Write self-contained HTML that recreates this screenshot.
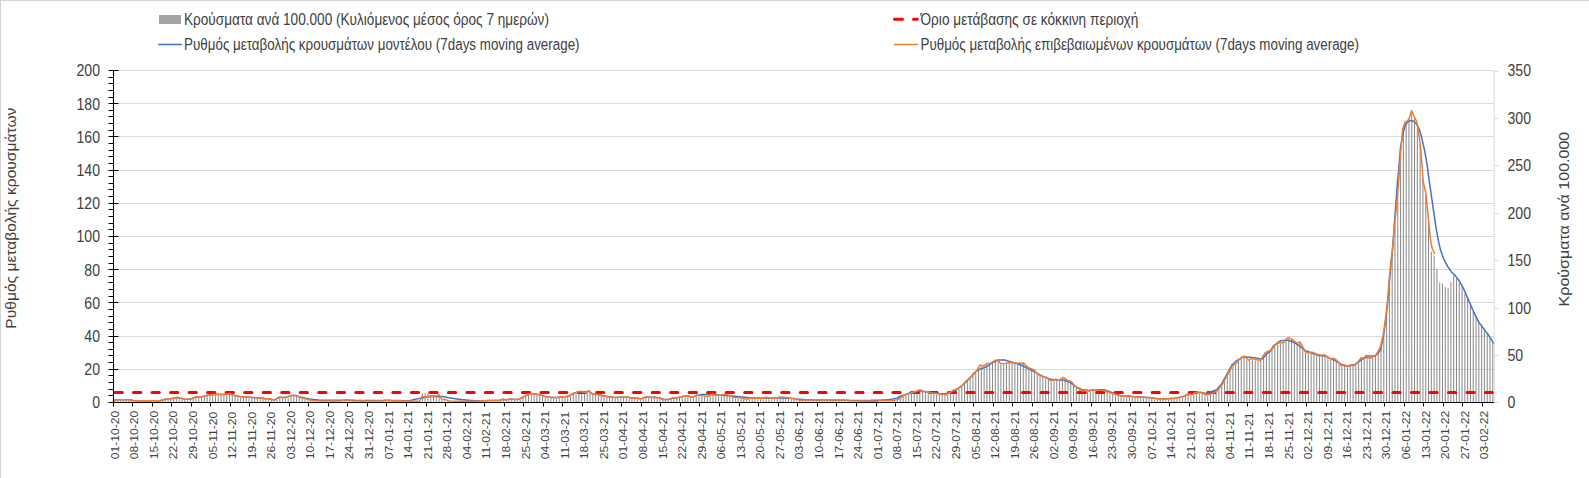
<!DOCTYPE html><html><head><meta charset="utf-8"><style>html,body{margin:0;padding:0;background:#fff;}svg{display:block}text{font-family:"Liberation Sans", sans-serif;}</style></head><body>
<svg width="1589" height="478" viewBox="0 0 1589 478">
<rect x="0.5" y="0.5" width="1600" height="600" fill="#fff" stroke="#d4d4d4" stroke-width="1"/>
<path d="M118,369.5H1494.2 M118,336.5H1494.2 M118,302.5H1494.2 M118,269.5H1494.2 M118,236.5H1494.2 M118,203.5H1494.2 M118,170.5H1494.2 M118,136.5H1494.2 M118,103.5H1494.2 M118,70.5H1494.2" stroke="#d9d9d9" stroke-width="1" fill="none"/>
<path d="M114.37,402.4V400.79h1.05V402.4zM117.17,402.4V400.70h1.05V402.4zM119.96,402.4V400.70h1.05V402.4zM122.76,402.4V400.70h1.05V402.4zM125.55,402.4V400.70h1.05V402.4zM128.35,402.4V400.70h1.05V402.4zM131.14,402.4V400.87h1.05V402.4zM133.94,402.4V401.70h1.05V402.4zM136.73,402.4V401.70h1.05V402.4zM139.53,402.4V401.70h1.05V402.4zM142.32,402.4V401.70h1.05V402.4zM145.12,402.4V401.70h1.05V402.4zM147.91,402.4V401.70h1.05V402.4zM150.71,402.4V401.70h1.05V402.4zM153.50,402.4V401.70h1.05V402.4zM156.30,402.4V401.70h1.05V402.4zM159.09,402.4V401.70h1.05V402.4zM161.89,402.4V400.98h1.05V402.4zM164.68,402.4V400.08h1.05V402.4zM167.48,402.4V399.80h1.05V402.4zM170.27,402.4V399.52h1.05V402.4zM173.07,402.4V399.08h1.05V402.4zM175.86,402.4V398.52h1.05V402.4zM178.66,402.4V398.57h1.05V402.4zM181.45,402.4V399.46h1.05V402.4zM184.25,402.4V400.11h1.05V402.4zM187.04,402.4V400.16h1.05V402.4zM189.84,402.4V400.06h1.05V402.4zM192.63,402.4V398.94h1.05V402.4zM195.43,402.4V397.82h1.05V402.4zM198.22,402.4V398.07h1.05V402.4zM201.02,402.4V397.79h1.05V402.4zM203.81,402.4V397.04h1.05V402.4zM206.61,402.4V396.29h1.05V402.4zM209.40,402.4V395.80h1.05V402.4zM212.20,402.4V395.49h1.05V402.4zM214.99,402.4V395.36h1.05V402.4zM217.79,402.4V395.23h1.05V402.4zM220.58,402.4V395.33h1.05V402.4zM223.38,402.4V395.50h1.05V402.4zM226.17,402.4V395.15h1.05V402.4zM228.96,402.4V394.43h1.05V402.4zM231.76,402.4V395.79h1.05V402.4zM234.55,402.4V396.53h1.05V402.4zM237.35,402.4V397.15h1.05V402.4zM240.14,402.4V397.53h1.05V402.4zM242.94,402.4V397.75h1.05V402.4zM245.73,402.4V397.97h1.05V402.4zM248.53,402.4V398.14h1.05V402.4zM251.32,402.4V398.30h1.05V402.4zM254.12,402.4V398.55h1.05V402.4zM256.91,402.4V398.90h1.05V402.4zM259.71,402.4V399.08h1.05V402.4zM262.50,402.4V398.88h1.05V402.4zM265.30,402.4V399.70h1.05V402.4zM268.09,402.4V399.65h1.05V402.4zM270.89,402.4V400.31h1.05V402.4zM273.68,402.4V400.98h1.05V402.4zM276.48,402.4V399.64h1.05V402.4zM279.27,402.4V397.89h1.05V402.4zM282.07,402.4V398.40h1.05V402.4zM284.86,402.4V398.27h1.05V402.4zM287.66,402.4V397.38h1.05V402.4zM290.45,402.4V396.30h1.05V402.4zM293.25,402.4V396.30h1.05V402.4zM296.04,402.4V396.45h1.05V402.4zM298.84,402.4V398.04h1.05V402.4zM301.63,402.4V398.96h1.05V402.4zM304.43,402.4V399.69h1.05V402.4zM307.22,402.4V400.37h1.05V402.4zM310.02,402.4V401.05h1.05V402.4zM312.81,402.4V401.48h1.05V402.4zM315.61,402.4V401.66h1.05V402.4zM318.40,402.4V401.83h1.05V402.4zM321.20,402.4V401.90h1.05V402.4zM323.99,402.4V401.90h1.05V402.4zM326.79,402.4V401.90h1.05V402.4zM329.58,402.4V401.90h1.05V402.4zM332.38,402.4V401.90h1.05V402.4zM335.17,402.4V401.90h1.05V402.4zM337.97,402.4V401.90h1.05V402.4zM340.76,402.4V401.56h1.05V402.4zM343.56,402.4V400.96h1.05V402.4zM346.35,402.4V400.79h1.05V402.4zM349.15,402.4V401.07h1.05V402.4zM351.94,402.4V401.76h1.05V402.4zM354.74,402.4V401.90h1.05V402.4zM357.53,402.4V401.90h1.05V402.4zM360.33,402.4V401.90h1.05V402.4zM363.12,402.4V401.90h1.05V402.4zM365.92,402.4V401.90h1.05V402.4zM368.71,402.4V401.90h1.05V402.4zM371.51,402.4V401.90h1.05V402.4zM374.30,402.4V401.90h1.05V402.4zM377.10,402.4V401.90h1.05V402.4zM379.89,402.4V401.90h1.05V402.4zM382.69,402.4V401.82h1.05V402.4zM385.48,402.4V400.95h1.05V402.4zM388.28,402.4V401.04h1.05V402.4zM391.07,402.4V401.76h1.05V402.4zM393.87,402.4V401.84h1.05V402.4zM396.66,402.4V401.77h1.05V402.4zM399.46,402.4V401.70h1.05V402.4zM402.25,402.4V401.79h1.05V402.4zM405.05,402.4V401.86h1.05V402.4zM407.84,402.4V401.93h1.05V402.4zM410.64,402.4V402.00h1.05V402.4zM413.43,402.4V402.07h1.05V402.4zM416.23,402.4V402.13h1.05V402.4zM419.02,402.4V402.11h1.05V402.4zM421.82,402.4V393.20h1.05V402.4zM424.61,402.4V393.20h1.05V402.4zM427.41,402.4V393.20h1.05V402.4zM430.20,402.4V396.81h1.05V402.4zM433.00,402.4V396.85h1.05V402.4zM435.79,402.4V396.89h1.05V402.4zM438.59,402.4V395.79h1.05V402.4zM441.38,402.4V400.03h1.05V402.4zM444.18,402.4V400.27h1.05V402.4zM446.97,402.4V401.30h1.05V402.4zM449.77,402.4V401.92h1.05V402.4zM452.56,402.4V401.97h1.05V402.4zM455.36,402.4V402.03h1.05V402.4zM458.15,402.4V402.08h1.05V402.4zM460.94,402.4V402.10h1.05V402.4zM463.74,402.4V402.10h1.05V402.4zM466.53,402.4V402.10h1.05V402.4zM469.33,402.4V402.10h1.05V402.4zM472.12,402.4V402.10h1.05V402.4zM474.92,402.4V402.10h1.05V402.4zM477.71,402.4V401.79h1.05V402.4zM480.51,402.4V401.72h1.05V402.4zM483.30,402.4V401.65h1.05V402.4zM486.10,402.4V401.58h1.05V402.4zM488.89,402.4V401.51h1.05V402.4zM491.69,402.4V401.41h1.05V402.4zM494.48,402.4V401.30h1.05V402.4zM497.28,402.4V401.19h1.05V402.4zM500.07,402.4V400.90h1.05V402.4zM502.87,402.4V400.21h1.05V402.4zM505.66,402.4V400.85h1.05V402.4zM508.46,402.4V400.15h1.05V402.4zM511.25,402.4V400.08h1.05V402.4zM514.05,402.4V400.36h1.05V402.4zM516.84,402.4V400.40h1.05V402.4zM519.64,402.4V399.43h1.05V402.4zM522.43,402.4V398.12h1.05V402.4zM525.23,402.4V396.60h1.05V402.4zM528.02,402.4V395.02h1.05V402.4zM530.82,402.4V394.63h1.05V402.4zM533.61,402.4V394.60h1.05V402.4zM536.41,402.4V395.09h1.05V402.4zM539.20,402.4V395.81h1.05V402.4zM542.00,402.4V396.55h1.05V402.4zM544.79,402.4V397.33h1.05V402.4zM547.59,402.4V397.93h1.05V402.4zM550.38,402.4V398.26h1.05V402.4zM553.18,402.4V398.50h1.05V402.4zM555.97,402.4V398.50h1.05V402.4zM558.77,402.4V398.05h1.05V402.4zM561.56,402.4V397.70h1.05V402.4zM564.36,402.4V397.56h1.05V402.4zM567.15,402.4V397.12h1.05V402.4zM569.95,402.4V396.25h1.05V402.4zM572.74,402.4V394.31h1.05V402.4zM575.54,402.4V393.38h1.05V402.4zM578.33,402.4V392.54h1.05V402.4zM581.13,402.4V392.60h1.05V402.4zM583.92,402.4V393.27h1.05V402.4zM586.72,402.4V392.33h1.05V402.4zM589.51,402.4V392.64h1.05V402.4zM592.31,402.4V394.86h1.05V402.4zM595.10,402.4V395.07h1.05V402.4zM597.90,402.4V395.64h1.05V402.4zM600.69,402.4V396.27h1.05V402.4zM603.49,402.4V396.90h1.05V402.4zM606.28,402.4V397.32h1.05V402.4zM609.08,402.4V397.74h1.05V402.4zM611.87,402.4V398.09h1.05V402.4zM614.67,402.4V398.39h1.05V402.4zM617.46,402.4V398.28h1.05V402.4zM620.26,402.4V398.18h1.05V402.4zM623.05,402.4V398.11h1.05V402.4zM625.85,402.4V398.04h1.05V402.4zM628.64,402.4V398.35h1.05V402.4zM631.44,402.4V398.94h1.05V402.4zM634.23,402.4V399.06h1.05V402.4zM637.03,402.4V399.18h1.05V402.4zM639.82,402.4V399.75h1.05V402.4zM642.62,402.4V398.97h1.05V402.4zM645.41,402.4V397.63h1.05V402.4zM648.21,402.4V398.08h1.05V402.4zM651.00,402.4V398.27h1.05V402.4zM653.80,402.4V398.21h1.05V402.4zM656.59,402.4V398.50h1.05V402.4zM659.39,402.4V398.89h1.05V402.4zM662.18,402.4V400.12h1.05V402.4zM664.98,402.4V400.55h1.05V402.4zM667.77,402.4V400.27h1.05V402.4zM670.57,402.4V399.50h1.05V402.4zM673.36,402.4V398.92h1.05V402.4zM676.16,402.4V398.81h1.05V402.4zM678.95,402.4V397.97h1.05V402.4zM681.75,402.4V397.44h1.05V402.4zM684.54,402.4V397.00h1.05V402.4zM687.34,402.4V396.96h1.05V402.4zM690.13,402.4V397.80h1.05V402.4zM692.92,402.4V397.67h1.05V402.4zM695.72,402.4V396.35h1.05V402.4zM698.51,402.4V396.17h1.05V402.4zM701.31,402.4V396.48h1.05V402.4zM704.10,402.4V396.83h1.05V402.4zM706.90,402.4V397.22h1.05V402.4zM709.69,402.4V396.08h1.05V402.4zM712.49,402.4V395.37h1.05V402.4zM715.28,402.4V395.96h1.05V402.4zM718.08,402.4V396.19h1.05V402.4zM720.87,402.4V395.88h1.05V402.4zM723.67,402.4V395.14h1.05V402.4zM726.46,402.4V395.70h1.05V402.4zM729.26,402.4V396.81h1.05V402.4zM732.05,402.4V397.87h1.05V402.4zM734.85,402.4V398.45h1.05V402.4zM737.64,402.4V398.54h1.05V402.4zM740.44,402.4V398.85h1.05V402.4zM743.23,402.4V399.58h1.05V402.4zM746.03,402.4V399.95h1.05V402.4zM748.82,402.4V399.33h1.05V402.4zM751.62,402.4V398.73h1.05V402.4zM754.41,402.4V399.12h1.05V402.4zM757.21,402.4V399.16h1.05V402.4zM760.00,402.4V399.19h1.05V402.4zM762.80,402.4V399.13h1.05V402.4zM765.59,402.4V397.94h1.05V402.4zM768.39,402.4V398.97h1.05V402.4zM771.18,402.4V399.14h1.05V402.4zM773.98,402.4V399.28h1.05V402.4zM776.77,402.4V398.66h1.05V402.4zM779.57,402.4V397.90h1.05V402.4zM782.36,402.4V398.02h1.05V402.4zM785.16,402.4V398.24h1.05V402.4zM787.95,402.4V398.80h1.05V402.4zM790.75,402.4V399.23h1.05V402.4zM793.54,402.4V399.51h1.05V402.4zM796.34,402.4V400.16h1.05V402.4zM799.13,402.4V401.00h1.05V402.4zM801.93,402.4V400.98h1.05V402.4zM804.72,402.4V400.84h1.05V402.4zM807.52,402.4V400.81h1.05V402.4zM810.31,402.4V400.81h1.05V402.4zM813.11,402.4V400.82h1.05V402.4zM815.90,402.4V400.83h1.05V402.4zM818.70,402.4V400.83h1.05V402.4zM821.49,402.4V400.84h1.05V402.4zM824.29,402.4V400.85h1.05V402.4zM827.08,402.4V400.86h1.05V402.4zM829.88,402.4V400.86h1.05V402.4zM832.67,402.4V400.87h1.05V402.4zM835.47,402.4V400.88h1.05V402.4zM838.26,402.4V400.88h1.05V402.4zM841.06,402.4V400.89h1.05V402.4zM843.85,402.4V400.90h1.05V402.4zM846.65,402.4V401.48h1.05V402.4zM849.44,402.4V401.73h1.05V402.4zM852.24,402.4V401.78h1.05V402.4zM855.03,402.4V401.83h1.05V402.4zM857.83,402.4V401.87h1.05V402.4zM860.62,402.4V401.91h1.05V402.4zM863.42,402.4V401.95h1.05V402.4zM866.21,402.4V401.98h1.05V402.4zM869.01,402.4V402.01h1.05V402.4zM871.80,402.4V402.05h1.05V402.4zM874.60,402.4V402.08h1.05V402.4zM877.39,402.4V401.92h1.05V402.4zM880.19,402.4V401.49h1.05V402.4zM882.98,402.4V401.47h1.05V402.4zM885.78,402.4V401.45h1.05V402.4zM888.57,402.4V401.43h1.05V402.4zM891.37,402.4V401.41h1.05V402.4zM894.16,402.4V401.06h1.05V402.4zM896.96,402.4V400.38h1.05V402.4zM899.75,402.4V399.01h1.05V402.4zM902.55,402.4V397.11h1.05V402.4zM905.34,402.4V395.58h1.05V402.4zM908.14,402.4V394.85h1.05V402.4zM910.93,402.4V393.92h1.05V402.4zM913.73,402.4V392.81h1.05V402.4zM916.52,402.4V391.83h1.05V402.4zM919.31,402.4V390.58h1.05V402.4zM922.11,402.4V391.99h1.05V402.4zM924.90,402.4V392.49h1.05V402.4zM927.70,402.4V392.86h1.05V402.4zM930.49,402.4V393.59h1.05V402.4zM933.29,402.4V394.18h1.05V402.4zM936.08,402.4V394.46h1.05V402.4zM938.88,402.4V394.77h1.05V402.4zM941.67,402.4V395.10h1.05V402.4zM944.47,402.4V395.60h1.05V402.4zM947.26,402.4V394.73h1.05V402.4zM950.06,402.4V392.99h1.05V402.4zM952.85,402.4V391.16h1.05V402.4zM955.65,402.4V390.09h1.05V402.4zM958.44,402.4V388.65h1.05V402.4zM961.24,402.4V386.48h1.05V402.4zM964.03,402.4V383.55h1.05V402.4zM966.83,402.4V380.92h1.05V402.4zM969.62,402.4V378.66h1.05V402.4zM972.42,402.4V376.08h1.05V402.4zM975.21,402.4V372.67h1.05V402.4zM978.01,402.4V368.50h1.05V402.4zM980.80,402.4V366.27h1.05V402.4zM983.60,402.4V366.58h1.05V402.4zM986.39,402.4V364.62h1.05V402.4zM989.19,402.4V364.07h1.05V402.4zM991.98,402.4V362.94h1.05V402.4zM994.78,402.4V361.24h1.05V402.4zM997.57,402.4V361.42h1.05V402.4zM1000.37,402.4V364.69h1.05V402.4zM1003.16,402.4V364.56h1.05V402.4zM1005.96,402.4V364.09h1.05V402.4zM1008.75,402.4V363.36h1.05V402.4zM1011.55,402.4V363.65h1.05V402.4zM1014.34,402.4V364.04h1.05V402.4zM1017.14,402.4V364.01h1.05V402.4zM1019.93,402.4V363.91h1.05V402.4zM1022.73,402.4V363.80h1.05V402.4zM1025.52,402.4V366.39h1.05V402.4zM1028.32,402.4V368.82h1.05V402.4zM1031.11,402.4V369.79h1.05V402.4zM1033.91,402.4V371.38h1.05V402.4zM1036.70,402.4V374.73h1.05V402.4zM1039.50,402.4V376.33h1.05V402.4zM1042.29,402.4V377.56h1.05V402.4zM1045.09,402.4V378.32h1.05V402.4zM1047.88,402.4V379.93h1.05V402.4zM1050.68,402.4V381.64h1.05V402.4zM1053.47,402.4V380.76h1.05V402.4zM1056.27,402.4V380.43h1.05V402.4zM1059.06,402.4V380.74h1.05V402.4zM1061.86,402.4V378.85h1.05V402.4zM1064.65,402.4V379.60h1.05V402.4zM1067.45,402.4V381.20h1.05V402.4zM1070.24,402.4V382.08h1.05V402.4zM1073.04,402.4V385.27h1.05V402.4zM1075.83,402.4V387.97h1.05V402.4zM1078.63,402.4V390.01h1.05V402.4zM1081.42,402.4V391.65h1.05V402.4zM1084.22,402.4V391.58h1.05V402.4zM1087.01,402.4V391.58h1.05V402.4zM1089.81,402.4V391.78h1.05V402.4zM1092.60,402.4V390.34h1.05V402.4zM1095.40,402.4V390.78h1.05V402.4zM1098.19,402.4V391.21h1.05V402.4zM1100.99,402.4V391.31h1.05V402.4zM1103.78,402.4V391.48h1.05V402.4zM1106.58,402.4V392.57h1.05V402.4zM1109.37,402.4V393.62h1.05V402.4zM1112.17,402.4V394.60h1.05V402.4zM1114.96,402.4V395.48h1.05V402.4zM1117.76,402.4V396.21h1.05V402.4zM1120.55,402.4V396.73h1.05V402.4zM1123.35,402.4V397.18h1.05V402.4zM1126.14,402.4V397.18h1.05V402.4zM1128.94,402.4V396.71h1.05V402.4zM1131.73,402.4V397.52h1.05V402.4zM1134.53,402.4V397.68h1.05V402.4zM1137.32,402.4V397.84h1.05V402.4zM1140.12,402.4V398.00h1.05V402.4zM1142.91,402.4V398.17h1.05V402.4zM1145.71,402.4V398.36h1.05V402.4zM1148.50,402.4V398.54h1.05V402.4zM1151.29,402.4V398.76h1.05V402.4zM1154.09,402.4V399.24h1.05V402.4zM1156.88,402.4V399.55h1.05V402.4zM1159.68,402.4V399.65h1.05V402.4zM1162.47,402.4V399.76h1.05V402.4zM1165.27,402.4V399.71h1.05V402.4zM1168.06,402.4V399.57h1.05V402.4zM1170.86,402.4V399.42h1.05V402.4zM1173.65,402.4V399.27h1.05V402.4zM1176.45,402.4V398.87h1.05V402.4zM1179.24,402.4V398.19h1.05V402.4zM1182.04,402.4V397.49h1.05V402.4zM1184.83,402.4V396.58h1.05V402.4zM1187.63,402.4V394.98h1.05V402.4zM1190.42,402.4V395.39h1.05V402.4zM1193.22,402.4V394.48h1.05V402.4zM1196.01,402.4V393.53h1.05V402.4zM1198.81,402.4V393.46h1.05V402.4zM1201.60,402.4V394.14h1.05V402.4zM1204.40,402.4V395.21h1.05V402.4zM1207.19,402.4V395.64h1.05V402.4zM1209.99,402.4V394.91h1.05V402.4zM1212.78,402.4V393.81h1.05V402.4zM1215.58,402.4V392.44h1.05V402.4zM1218.37,402.4V389.62h1.05V402.4zM1221.17,402.4V386.33h1.05V402.4zM1223.96,402.4V381.25h1.05V402.4zM1226.76,402.4V376.11h1.05V402.4zM1229.55,402.4V370.97h1.05V402.4zM1232.35,402.4V366.93h1.05V402.4zM1235.14,402.4V364.67h1.05V402.4zM1237.94,402.4V361.47h1.05V402.4zM1240.73,402.4V358.62h1.05V402.4zM1243.53,402.4V357.28h1.05V402.4zM1246.32,402.4V359.63h1.05V402.4zM1249.12,402.4V360.47h1.05V402.4zM1251.91,402.4V359.27h1.05V402.4zM1254.71,402.4V360.15h1.05V402.4zM1257.50,402.4V360.92h1.05V402.4zM1260.30,402.4V360.57h1.05V402.4zM1263.09,402.4V356.16h1.05V402.4zM1265.89,402.4V352.93h1.05V402.4zM1268.68,402.4V351.68h1.05V402.4zM1271.48,402.4V350.56h1.05V402.4zM1274.27,402.4V346.45h1.05V402.4zM1277.07,402.4V344.48h1.05V402.4zM1279.86,402.4V343.64h1.05V402.4zM1282.66,402.4V343.97h1.05V402.4zM1285.45,402.4V340.05h1.05V402.4zM1288.25,402.4V338.63h1.05V402.4zM1291.04,402.4V339.99h1.05V402.4zM1293.84,402.4V342.06h1.05V402.4zM1296.63,402.4V343.72h1.05V402.4zM1299.43,402.4V342.94h1.05V402.4zM1302.22,402.4V347.72h1.05V402.4zM1305.02,402.4V352.83h1.05V402.4zM1307.81,402.4V353.90h1.05V402.4zM1310.61,402.4V353.23h1.05V402.4zM1313.40,402.4V353.89h1.05V402.4zM1316.20,402.4V355.12h1.05V402.4zM1318.99,402.4V355.66h1.05V402.4zM1321.79,402.4V356.05h1.05V402.4zM1324.58,402.4V356.07h1.05V402.4zM1327.38,402.4V357.77h1.05V402.4zM1330.17,402.4V359.83h1.05V402.4zM1332.97,402.4V359.16h1.05V402.4zM1335.76,402.4V360.85h1.05V402.4zM1338.56,402.4V363.93h1.05V402.4zM1341.35,402.4V365.95h1.05V402.4zM1344.15,402.4V365.90h1.05V402.4zM1346.94,402.4V367.71h1.05V402.4zM1349.74,402.4V365.85h1.05V402.4zM1352.53,402.4V366.76h1.05V402.4zM1355.33,402.4V365.01h1.05V402.4zM1358.12,402.4V362.06h1.05V402.4zM1360.92,402.4V358.74h1.05V402.4zM1363.71,402.4V358.59h1.05V402.4zM1366.51,402.4V356.70h1.05V402.4zM1369.30,402.4V359.20h1.05V402.4zM1372.10,402.4V357.87h1.05V402.4zM1374.89,402.4V355.92h1.05V402.4zM1377.69,402.4V352.03h1.05V402.4zM1380.48,402.4V345.10h1.05V402.4zM1383.27,402.4V331.37h1.05V402.4zM1386.07,402.4V310.00h1.05V402.4zM1388.86,402.4V278.65h1.05V402.4zM1391.66,402.4V253.50h1.05V402.4zM1394.45,402.4V221.97h1.05V402.4zM1397.25,402.4V192.95h1.05V402.4zM1400.04,402.4V154.20h1.05V402.4zM1402.84,402.4V127.91h1.05V402.4zM1405.63,402.4V122.32h1.05V402.4zM1408.43,402.4V119.28h1.05V402.4zM1411.22,402.4V111.87h1.05V402.4zM1414.02,402.4V118.17h1.05V402.4zM1416.81,402.4V125.44h1.05V402.4zM1419.61,402.4V144.04h1.05V402.4zM1422.40,402.4V178.83h1.05V402.4zM1425.20,402.4V193.89h1.05V402.4zM1427.99,402.4V220.91h1.05V402.4zM1430.79,402.4V251.80h1.05V402.4zM1433.58,402.4V255.76h1.05V402.4zM1436.38,402.4V269.28h1.05V402.4zM1439.17,402.4V282.58h1.05V402.4zM1441.97,402.4V283.70h1.05V402.4zM1444.76,402.4V287.07h1.05V402.4zM1447.56,402.4V287.82h1.05V402.4zM1450.35,402.4V281.71h1.05V402.4zM1453.15,402.4V275.41h1.05V402.4zM1455.94,402.4V278.69h1.05V402.4zM1458.74,402.4V280.54h1.05V402.4zM1461.53,402.4V286.42h1.05V402.4zM1464.33,402.4V293.78h1.05V402.4zM1467.12,402.4V298.98h1.05V402.4zM1469.92,402.4V305.57h1.05V402.4zM1472.71,402.4V312.01h1.05V402.4zM1475.51,402.4V316.49h1.05V402.4zM1478.30,402.4V322.16h1.05V402.4zM1481.10,402.4V325.36h1.05V402.4zM1483.89,402.4V329.06h1.05V402.4zM1486.69,402.4V333.12h1.05V402.4zM1489.48,402.4V337.32h1.05V402.4zM1492.28,402.4V341.10h1.05V402.4z" fill="#8c8c8c"/>
<path d="M115,392.5H1492.5" stroke="#ff0000" stroke-width="3" stroke-dasharray="7.3 11.22" stroke-linecap="round" fill="none"/>
<polyline points="113.5,400.67 114.5,400.38 115.5,400.09 116.5,399.85 117.5,399.80 118.5,399.80 119.5,399.80 120.5,399.80 121.5,399.80 122.5,399.80 123.5,399.80 124.5,399.80 125.5,399.80 126.5,399.80 127.5,399.80 128.5,399.80 129.5,399.81 130.5,399.93 131.5,400.15 132.5,400.37 133.5,400.59 134.5,400.77 135.5,400.80 136.5,400.80 137.5,400.80 138.5,400.80 139.5,400.80 140.5,400.80 141.5,400.80 142.5,400.80 143.5,400.80 144.5,400.80 145.5,400.80 146.5,400.80 147.5,400.80 148.5,400.80 149.5,400.80 150.5,400.80 151.5,400.80 152.5,400.80 153.5,400.80 154.5,400.80 155.5,400.80 156.5,400.80 157.5,400.80 158.5,400.79 159.5,400.72 160.5,400.57 161.5,400.35 162.5,400.05 163.5,399.72 164.5,399.45 165.5,399.23 166.5,399.06 167.5,398.95 168.5,398.85 169.5,398.75 170.5,398.64 171.5,398.52 172.5,398.37 173.5,398.19 174.5,398.00 175.5,397.80 176.5,397.63 177.5,397.57 178.5,397.63 179.5,397.80 180.5,398.09 181.5,398.41 182.5,398.71 183.5,398.94 184.5,399.11 185.5,399.21 186.5,399.24 187.5,399.26 188.5,399.25 189.5,399.15 190.5,398.96 191.5,398.68 192.5,398.30 193.5,397.90 194.5,397.53 195.5,397.27 196.5,397.12 197.5,397.08 198.5,397.13 199.5,397.13 200.5,397.04 201.5,396.88 202.5,396.63 203.5,396.36 204.5,396.09 205.5,395.82 206.5,395.56 207.5,395.33 208.5,395.13 209.5,394.97 210.5,394.84 211.5,394.73 212.5,394.65 213.5,394.57 214.5,394.51 215.5,394.46 216.5,394.41 217.5,394.38 218.5,394.36 219.5,394.37 220.5,394.40 221.5,394.46 222.5,394.50 223.5,394.51 224.5,394.47 225.5,394.38 226.5,394.23 227.5,394.03 228.5,393.91 229.5,393.93 230.5,394.12 231.5,394.45 232.5,394.86 233.5,395.21 234.5,395.49 235.5,395.72 236.5,395.94 237.5,396.16 238.5,396.34 239.5,396.49 240.5,396.61 241.5,396.70 242.5,396.78 243.5,396.86 244.5,396.93 245.5,397.01 246.5,397.08 247.5,397.15 248.5,397.21 249.5,397.27 250.5,397.33 251.5,397.38 252.5,397.45 253.5,397.54 254.5,397.64 255.5,397.75 256.5,397.88 257.5,398.01 258.5,398.09 259.5,398.09 260.5,398.01 261.5,398.00 262.5,398.08 263.5,398.26 264.5,398.48 265.5,398.67 266.5,398.74 267.5,398.76 268.5,398.83 269.5,398.98 270.5,399.20 271.5,399.43 272.5,399.66 273.5,399.74 274.5,399.67 275.5,399.40 276.5,398.91 277.5,398.28 278.5,397.76 279.5,397.39 280.5,397.24 281.5,397.30 282.5,397.44 283.5,397.49 284.5,397.46 285.5,397.32 286.5,397.05 287.5,396.72 288.5,396.33 289.5,395.96 290.5,395.67 291.5,395.49 292.5,395.40 293.5,395.40 294.5,395.41 295.5,395.53 296.5,395.78 297.5,396.15 298.5,396.63 299.5,397.11 300.5,396.92 301.5,397.16 302.5,397.40 303.5,397.64 304.5,397.88 305.5,398.12 306.5,398.36 307.5,398.60 308.5,398.84 309.5,399.08 310.5,399.25 311.5,399.35 312.5,399.45 313.5,399.55 314.5,399.65 315.5,399.75 316.5,399.85 317.5,399.95 318.5,400.05 319.5,400.15 320.5,400.20 321.5,400.21 322.5,400.21 323.5,400.22 324.5,400.22 325.5,400.23 326.5,400.23 327.5,400.24 328.5,400.24 329.5,400.25 330.5,400.25 331.5,400.26 332.5,400.26 333.5,400.27 334.5,400.27 335.5,400.28 336.5,400.28 337.5,400.29 338.5,400.29 339.5,400.30 340.5,400.30 341.5,400.31 342.5,400.31 343.5,400.32 344.5,400.32 345.5,400.33 346.5,400.33 347.5,400.34 348.5,400.34 349.5,400.35 350.5,400.35 351.5,400.36 352.5,400.36 353.5,400.37 354.5,400.37 355.5,400.38 356.5,400.38 357.5,400.39 358.5,400.39 359.5,400.40 360.5,400.40 361.5,400.41 362.5,400.41 363.5,400.42 364.5,400.42 365.5,400.43 366.5,400.43 367.5,400.44 368.5,400.44 369.5,400.45 370.5,400.45 371.5,400.46 372.5,400.46 373.5,400.47 374.5,400.47 375.5,400.48 376.5,400.48 377.5,400.49 378.5,400.49 379.5,400.50 380.5,400.50 381.5,400.51 382.5,400.51 383.5,400.52 384.5,400.52 385.5,400.53 386.5,400.53 387.5,400.54 388.5,400.54 389.5,400.55 390.5,400.55 391.5,400.56 392.5,400.56 393.5,400.57 394.5,400.57 395.5,400.58 396.5,400.58 397.5,400.59 398.5,400.59 399.5,400.60 400.5,400.61 401.5,400.63 402.5,400.66 403.5,400.68 404.5,400.70 405.5,400.72 406.5,400.74 407.5,400.77 408.5,400.79 409.5,400.69 410.5,400.46 411.5,400.23 412.5,400.00 413.5,399.78 414.5,399.55 415.5,399.32 416.5,399.10 417.5,398.87 418.5,398.64 419.5,398.41 420.5,398.21 421.5,398.03 422.5,397.85 423.5,397.67 424.5,397.49 425.5,397.31 426.5,397.13 427.5,396.95 428.5,396.77 429.5,396.59 430.5,396.50 431.5,396.50 432.5,396.50 433.5,396.50 434.5,396.50 435.5,396.50 436.5,396.50 437.5,396.50 438.5,396.50 439.5,396.50 440.5,396.50 441.5,396.50 442.5,396.50 443.5,396.61 444.5,396.82 445.5,397.04 446.5,397.25 447.5,397.46 448.5,397.68 449.5,397.89 450.5,398.07 451.5,398.21 452.5,398.35 453.5,398.49 454.5,398.63 455.5,398.77 456.5,398.91 457.5,399.05 458.5,399.19 459.5,399.33 460.5,399.45 461.5,399.55 462.5,399.65 463.5,399.75 464.5,399.85 465.5,399.95 466.5,400.05 467.5,400.15 468.5,400.25 469.5,400.35 470.5,400.43 471.5,400.49 472.5,400.54 473.5,400.60 474.5,400.66 475.5,400.71 476.5,400.77 477.5,400.79 478.5,400.77 479.5,400.76 480.5,400.74 481.5,400.72 482.5,400.70 483.5,400.69 484.5,400.67 485.5,400.65 486.5,400.63 487.5,400.62 488.5,400.60 489.5,400.58 490.5,400.57 491.5,400.55 492.5,400.53 493.5,400.51 494.5,400.50 495.5,400.48 496.5,400.46 497.5,400.44 498.5,400.43 499.5,400.41 500.5,399.94 501.5,399.72 502.5,399.57 503.5,399.53 504.5,399.60 505.5,399.69 506.5,399.70 507.5,399.60 508.5,399.39 509.5,399.24 510.5,399.17 511.5,399.17 512.5,399.25 513.5,399.34 514.5,399.42 515.5,399.47 516.5,399.47 517.5,399.35 518.5,399.12 519.5,398.80 520.5,398.37 521.5,397.91 522.5,397.43 523.5,396.94 524.5,396.39 525.5,395.81 526.5,395.22 527.5,394.71 528.5,394.31 529.5,394.02 530.5,393.85 531.5,393.73 532.5,393.67 533.5,393.69 534.5,393.78 535.5,393.94 536.5,394.14 537.5,394.36 538.5,394.59 539.5,394.85 540.5,395.11 541.5,395.38 542.5,395.65 543.5,395.92 544.5,396.20 545.5,396.47 546.5,396.71 547.5,396.90 548.5,397.07 549.5,397.19 550.5,397.31 551.5,397.42 552.5,397.50 553.5,397.56 554.5,397.59 555.5,397.60 556.5,397.58 557.5,397.48 558.5,397.32 559.5,397.16 560.5,396.97 561.5,396.84 562.5,396.77 563.5,396.72 564.5,396.67 565.5,396.57 566.5,396.43 567.5,396.25 568.5,396.01 569.5,395.64 570.5,395.16 571.5,394.59 572.5,394.00 573.5,393.47 574.5,393.02 575.5,392.68 576.5,392.36 577.5,392.05 578.5,391.78 579.5,391.63 580.5,391.60 581.5,391.69 582.5,391.90 583.5,392.10 584.5,392.14 585.5,392.02 586.5,391.75 587.5,391.40 588.5,391.36 589.5,391.67 590.5,392.28 591.5,393.01 592.5,393.60 593.5,393.96 594.5,394.10 595.5,394.21 596.5,394.36 597.5,394.55 598.5,394.76 599.5,394.99 600.5,395.21 601.5,395.44 602.5,395.66 603.5,395.86 604.5,396.05 605.5,396.22 606.5,396.37 607.5,396.52 608.5,396.67 609.5,396.81 610.5,396.95 611.5,397.08 612.5,397.20 613.5,397.31 614.5,397.39 615.5,397.43 616.5,397.43 617.5,397.40 618.5,397.36 619.5,397.32 620.5,397.29 621.5,397.26 622.5,397.24 623.5,397.21 624.5,397.19 625.5,397.16 626.5,397.16 627.5,397.22 628.5,397.36 629.5,397.55 630.5,397.76 631.5,397.94 632.5,398.05 633.5,398.11 634.5,398.15 635.5,398.19 636.5,398.25 637.5,398.34 638.5,398.48 639.5,398.62 640.5,398.66 641.5,398.56 642.5,398.31 643.5,397.89 644.5,397.47 645.5,397.17 646.5,397.01 647.5,397.00 648.5,397.13 649.5,397.25 650.5,397.32 651.5,397.36 652.5,397.35 653.5,397.34 654.5,397.36 655.5,397.42 656.5,397.52 657.5,397.65 658.5,397.81 659.5,398.03 660.5,398.33 661.5,398.69 662.5,399.09 663.5,399.39 664.5,399.57 665.5,399.62 666.5,399.55 667.5,399.45 668.5,399.32 669.5,399.10 670.5,398.80 671.5,398.52 672.5,398.25 673.5,398.07 674.5,398.00 675.5,397.94 676.5,397.82 677.5,397.64 678.5,397.39 679.5,397.13 680.5,396.88 681.5,396.67 682.5,396.51 683.5,396.35 684.5,396.19 685.5,396.06 686.5,396.03 687.5,396.10 688.5,396.28 689.5,396.55 690.5,396.81 691.5,396.93 692.5,396.89 693.5,396.70 694.5,396.31 695.5,395.86 696.5,395.53 697.5,395.31 698.5,395.24 699.5,395.32 700.5,394.60 701.5,394.60 702.5,394.60 703.5,394.60 704.5,394.60 705.5,394.60 706.5,394.60 707.5,394.60 708.5,394.60 709.5,394.60 710.5,394.60 711.5,394.60 712.5,394.63 713.5,394.70 714.5,394.77 715.5,394.83 716.5,394.90 717.5,394.97 718.5,395.03 719.5,395.10 720.5,395.17 721.5,395.23 722.5,395.30 723.5,395.37 724.5,395.43 725.5,395.50 726.5,395.57 727.5,395.63 728.5,395.70 729.5,395.77 730.5,395.85 731.5,395.95 732.5,396.05 733.5,396.15 734.5,396.25 735.5,396.35 736.5,396.45 737.5,396.55 738.5,396.65 739.5,396.75 740.5,396.84 741.5,396.92 742.5,397.00 743.5,397.08 744.5,397.16 745.5,397.28 746.5,397.44 747.5,397.60 748.5,397.76 749.5,397.92 750.5,398.00 751.5,398.00 752.5,398.00 753.5,398.00 754.5,398.00 755.5,398.00 756.5,398.00 757.5,398.00 758.5,398.00 759.5,398.00 760.5,398.00 761.5,398.00 762.5,398.00 763.5,398.00 764.5,398.00 765.5,398.00 766.5,398.00 767.5,398.00 768.5,398.00 769.5,398.00 770.5,398.00 771.5,398.00 772.5,398.00 773.5,398.00 774.5,398.00 775.5,398.00 776.5,398.00 777.5,398.00 778.5,398.00 779.5,398.00 780.5,398.01 781.5,398.03 782.5,398.05 783.5,398.07 784.5,398.09 785.5,398.11 786.5,398.13 787.5,398.15 788.5,398.17 789.5,398.19 790.5,398.25 791.5,398.37 792.5,398.48 793.5,398.58 794.5,398.69 795.5,398.81 796.5,398.92 797.5,399.02 798.5,399.13 799.5,399.25 800.5,399.34 801.5,399.43 802.5,399.51 803.5,399.59 804.5,399.68 805.5,399.76 806.5,399.81 807.5,399.82 808.5,399.83 809.5,399.85 810.5,399.86 811.5,399.87 812.5,399.88 813.5,399.90 814.5,399.91 815.5,399.92 816.5,399.94 817.5,399.95 818.5,399.96 819.5,399.98 820.5,399.99 821.5,400.00 822.5,400.01 823.5,400.03 824.5,400.04 825.5,400.05 826.5,400.07 827.5,400.08 828.5,400.09 829.5,400.10 830.5,400.12 831.5,400.13 832.5,400.14 833.5,400.16 834.5,400.17 835.5,400.18 836.5,400.20 837.5,400.21 838.5,400.22 839.5,400.23 840.5,400.25 841.5,400.26 842.5,400.27 843.5,400.29 844.5,400.30 845.5,400.31 846.5,400.32 847.5,400.34 848.5,400.35 849.5,400.36 850.5,400.38 851.5,400.39 852.5,400.40 853.5,400.42 854.5,400.43 855.5,400.44 856.5,400.45 857.5,400.47 858.5,400.48 859.5,400.49 860.5,400.49 861.5,400.48 862.5,400.47 863.5,400.46 864.5,400.45 865.5,400.44 866.5,400.42 867.5,400.41 868.5,400.40 869.5,400.39 870.5,400.38 871.5,400.36 872.5,400.35 873.5,400.34 874.5,400.33 875.5,400.32 876.5,400.31 877.5,400.28 878.5,400.23 879.5,400.19 880.5,400.14 881.5,400.10 882.5,400.05 883.5,400.00 884.5,399.96 885.5,399.91 886.5,399.87 887.5,399.82 888.5,399.72 889.5,399.56 890.5,399.40 891.5,399.24 892.5,399.08 893.5,398.88 894.5,398.62 895.5,398.38 896.5,398.12 897.5,397.75 898.5,397.25 899.5,396.75 900.5,396.31 901.5,395.94 902.5,395.57 903.5,395.20 904.5,394.83 905.5,394.47 906.5,394.10 907.5,393.73 908.5,393.36 909.5,392.99 910.5,392.70 911.5,392.50 912.5,392.30 913.5,392.10 914.5,391.90 915.5,391.70 916.5,391.50 917.5,391.30 918.5,391.10 919.5,390.90 920.5,390.88 921.5,391.06 922.5,391.23 923.5,391.39 924.5,391.56 925.5,391.74 926.5,391.91 927.5,392.07 928.5,392.25 929.5,392.42 930.5,392.56 931.5,392.68 932.5,392.80 933.5,392.92 934.5,393.04 935.5,393.16 936.5,393.28 937.5,393.40 938.5,393.52 939.5,393.64 940.5,393.69 941.5,393.68 942.5,393.66 943.5,393.65 944.5,393.64 945.5,393.62 946.5,393.61 947.5,393.41 948.5,393.02 949.5,392.63 950.5,392.24 951.5,391.86 952.5,391.47 953.5,391.08 954.5,390.69 955.5,390.16 956.5,389.47 957.5,388.79 958.5,388.10 959.5,387.41 960.5,386.73 961.5,386.04 962.5,385.22 963.5,384.26 964.5,383.29 965.5,382.33 966.5,381.37 967.5,380.41 968.5,379.44 969.5,378.48 970.5,377.39 971.5,376.17 972.5,374.95 973.5,373.73 974.5,372.51 975.5,371.62 976.5,371.05 977.5,370.49 978.5,369.92 979.5,369.36 980.5,368.96 981.5,368.58 982.5,368.21 983.5,367.83 984.5,367.45 985.5,367.08 986.5,366.70 987.5,366.01 988.5,365.32 989.5,364.63 990.5,363.94 991.5,363.25 992.5,362.61 993.5,362.15 994.5,361.70 995.5,361.24 996.5,360.78 997.5,360.33 998.5,360.10 999.5,360.10 1000.5,360.10 1001.5,360.10 1002.5,360.10 1003.5,360.10 1004.5,360.10 1005.5,360.27 1006.5,360.56 1007.5,360.85 1008.5,361.14 1009.5,361.43 1010.5,361.72 1011.5,362.01 1012.5,362.32 1013.5,362.64 1014.5,362.95 1015.5,363.27 1016.5,363.58 1017.5,363.90 1018.5,364.21 1019.5,364.53 1020.5,364.84 1021.5,365.25 1022.5,365.74 1023.5,366.23 1024.5,366.72 1025.5,367.22 1026.5,367.71 1027.5,368.20 1028.5,368.70 1029.5,369.21 1030.5,369.72 1031.5,370.23 1032.5,370.73 1033.5,371.24 1034.5,371.75 1035.5,372.31 1036.5,372.89 1037.5,373.47 1038.5,374.04 1039.5,374.62 1040.5,375.20 1041.5,375.78 1042.5,376.20 1043.5,376.58 1044.5,376.95 1045.5,377.33 1046.5,377.71 1047.5,378.08 1048.5,378.46 1049.5,378.84 1050.5,379.21 1051.5,379.45 1052.5,379.55 1053.5,379.65 1054.5,379.75 1055.5,379.85 1056.5,379.95 1057.5,380.01 1058.5,380.02 1059.5,380.04 1060.5,380.05 1061.5,380.07 1062.5,380.08 1063.5,380.10 1064.5,380.35 1065.5,380.72 1066.5,381.08 1067.5,381.44 1068.5,381.80 1069.5,382.16 1070.5,382.84 1071.5,383.55 1072.5,384.26 1073.5,384.97 1074.5,385.68 1075.5,386.39 1076.5,387.10 1077.5,387.56 1078.5,388.01 1079.5,388.47 1080.5,388.92 1081.5,389.38 1082.5,389.74 1083.5,389.85 1084.5,389.97 1085.5,390.09 1086.5,390.21 1087.5,390.32 1088.5,390.44 1089.5,390.44 1090.5,390.33 1091.5,390.21 1092.5,390.10 1093.5,389.99 1094.5,389.87 1095.5,389.76 1096.5,389.70 1097.5,389.70 1098.5,389.70 1099.5,389.70 1100.5,389.70 1101.5,389.70 1102.5,389.70 1103.5,389.70 1104.5,389.85 1105.5,390.21 1106.5,390.57 1107.5,390.93 1108.5,391.30 1109.5,391.66 1110.5,392.02 1111.5,392.38 1112.5,392.75 1113.5,393.12 1114.5,393.49 1115.5,393.86 1116.5,394.23 1117.5,394.60 1118.5,394.97 1119.5,395.33 1120.5,395.70 1121.5,396.01 1122.5,396.08 1123.5,396.15 1124.5,396.22 1125.5,396.29 1126.5,396.36 1127.5,396.43 1128.5,396.50 1129.5,396.57 1130.5,396.13 1131.5,396.37 1132.5,396.55 1133.5,396.68 1134.5,396.75 1135.5,396.81 1136.5,396.87 1137.5,396.92 1138.5,396.98 1139.5,397.04 1140.5,397.10 1141.5,397.16 1142.5,397.22 1143.5,397.28 1144.5,397.34 1145.5,397.41 1146.5,397.47 1147.5,397.54 1148.5,397.60 1149.5,397.67 1150.5,397.75 1151.5,397.86 1152.5,397.99 1153.5,398.15 1154.5,398.32 1155.5,398.45 1156.5,398.56 1157.5,398.64 1158.5,398.69 1159.5,398.73 1160.5,398.76 1161.5,398.80 1162.5,398.84 1163.5,398.85 1164.5,398.85 1165.5,398.82 1166.5,398.77 1167.5,398.72 1168.5,398.67 1169.5,398.62 1170.5,398.57 1171.5,398.51 1172.5,398.46 1173.5,398.41 1174.5,398.33 1175.5,398.21 1176.5,398.04 1177.5,397.84 1178.5,397.60 1179.5,397.36 1180.5,397.11 1181.5,396.86 1182.5,396.61 1183.5,396.31 1184.5,395.95 1185.5,395.52 1186.5,395.04 1187.5,394.65 1188.5,394.44 1189.5,394.33 1190.5,394.28 1191.5,394.19 1192.5,393.98 1193.5,393.66 1194.5,393.32 1195.5,392.98 1196.5,392.72 1197.5,392.57 1198.5,392.52 1199.5,392.60 1200.5,392.13 1201.5,392.38 1202.5,392.63 1203.5,392.89 1204.5,393.14 1205.5,393.40 1206.5,393.65 1207.5,393.37 1208.5,392.95 1209.5,392.54 1210.5,392.12 1211.5,391.70 1212.5,391.29 1213.5,390.87 1214.5,390.46 1215.5,390.04 1216.5,389.62 1217.5,388.67 1218.5,387.49 1219.5,386.31 1220.5,385.13 1221.5,383.95 1222.5,382.31 1223.5,380.47 1224.5,378.63 1225.5,376.79 1226.5,374.95 1227.5,373.11 1228.5,371.27 1229.5,369.43 1230.5,367.59 1231.5,365.75 1232.5,364.50 1233.5,363.50 1234.5,362.50 1235.5,361.50 1236.5,360.72 1237.5,360.17 1238.5,359.62 1239.5,359.07 1240.5,358.51 1241.5,357.96 1242.5,357.41 1243.5,356.86 1244.5,356.85 1245.5,356.91 1246.5,356.97 1247.5,357.03 1248.5,357.09 1249.5,357.15 1250.5,357.23 1251.5,357.38 1252.5,357.53 1253.5,357.68 1254.5,357.83 1255.5,357.98 1256.5,358.13 1257.5,358.31 1258.5,358.53 1259.5,358.75 1260.5,358.97 1261.5,359.19 1262.5,358.72 1263.5,357.56 1264.5,356.40 1265.5,355.24 1266.5,354.08 1267.5,353.22 1268.5,352.65 1269.5,352.08 1270.5,350.93 1271.5,349.20 1272.5,347.46 1273.5,345.83 1274.5,345.08 1275.5,344.33 1276.5,343.59 1277.5,342.84 1278.5,342.09 1279.5,341.35 1280.5,340.85 1281.5,340.73 1282.5,340.61 1283.5,340.49 1284.5,340.37 1285.5,340.26 1286.5,340.14 1287.5,340.28 1288.5,340.54 1289.5,340.80 1290.5,341.06 1291.5,341.32 1292.5,341.79 1293.5,342.34 1294.5,342.89 1295.5,343.44 1296.5,344.00 1297.5,344.55 1298.5,345.10 1299.5,345.91 1300.5,346.71 1301.5,347.52 1302.5,348.32 1303.5,349.13 1304.5,349.94 1305.5,350.62 1306.5,351.00 1307.5,351.39 1308.5,351.78 1309.5,352.17 1310.5,352.56 1311.5,352.94 1312.5,353.31 1313.5,353.67 1314.5,354.03 1315.5,354.39 1316.5,354.75 1317.5,355.11 1318.5,355.46 1319.5,355.57 1320.5,355.64 1321.5,355.72 1322.5,355.79 1323.5,355.87 1324.5,355.94 1325.5,356.10 1326.5,356.59 1327.5,357.08 1328.5,357.58 1329.5,358.07 1330.5,358.56 1331.5,359.05 1332.5,359.45 1333.5,359.75 1334.5,360.05 1335.5,360.58 1336.5,361.35 1337.5,361.98 1338.5,362.57 1339.5,363.17 1340.5,363.77 1341.5,364.37 1342.5,364.96 1343.5,365.51 1344.5,365.61 1345.5,365.71 1346.5,365.81 1347.5,365.91 1348.5,365.98 1349.5,365.74 1350.5,365.50 1351.5,365.26 1352.5,365.02 1353.5,364.78 1354.5,364.54 1355.5,364.10 1356.5,363.33 1357.5,362.57 1358.5,361.81 1359.5,361.05 1360.5,360.29 1361.5,359.53 1362.5,358.96 1363.5,358.46 1364.5,357.97 1365.5,357.48 1366.5,356.99 1367.5,356.49 1368.5,356.00 1369.5,356.00 1370.5,356.00 1371.5,356.00 1372.5,356.00 1373.5,356.00 1374.5,356.00 1375.5,355.68 1376.5,354.62 1377.5,353.56 1378.5,352.51 1379.5,351.45 1380.5,349.69 1381.5,345.14 1382.5,340.59 1383.5,335.78 1384.5,328.58 1385.5,321.38 1386.5,313.10 1387.5,304.10 1388.5,293.00 1389.5,280.50 1390.5,269.50 1391.5,259.50 1392.5,248.32 1393.5,236.41 1394.5,221.45 1395.5,208.63 1396.5,195.21 1397.5,181.38 1398.5,172.50 1399.5,159.39 1400.5,147.88 1401.5,141.84 1402.5,135.80 1403.5,131.56 1404.5,127.52 1405.5,124.66 1406.5,123.58 1407.5,122.49 1408.5,121.40 1409.5,121.00 1410.5,120.60 1411.5,120.58 1412.5,120.95 1413.5,121.32 1414.5,122.00 1415.5,123.00 1416.5,124.00 1417.5,125.58 1418.5,127.75 1419.5,129.92 1420.5,133.00 1421.5,137.00 1422.5,141.20 1423.5,145.60 1424.5,150.00 1425.5,155.60 1426.5,161.20 1427.5,167.75 1428.5,175.25 1429.5,182.69 1430.5,189.62 1431.5,196.54 1432.5,203.47 1433.5,210.42 1434.5,217.36 1435.5,224.31 1436.5,230.25 1437.5,236.08 1438.5,241.20 1439.5,245.60 1440.5,250.00 1441.5,252.74 1442.5,255.48 1443.5,258.23 1444.5,260.35 1445.5,262.41 1446.5,264.47 1447.5,266.23 1448.5,267.70 1449.5,269.16 1450.5,270.62 1451.5,271.91 1452.5,272.94 1453.5,273.96 1454.5,274.99 1455.5,276.11 1456.5,277.32 1457.5,278.54 1458.5,279.76 1459.5,281.42 1460.5,283.19 1461.5,284.96 1462.5,286.73 1463.5,288.50 1464.5,290.79 1465.5,293.09 1466.5,295.38 1467.5,297.68 1468.5,299.97 1469.5,302.29 1470.5,304.61 1471.5,306.93 1472.5,309.25 1473.5,311.57 1474.5,313.62 1475.5,315.64 1476.5,317.66 1477.5,319.68 1478.5,321.70 1479.5,323.11 1480.5,324.45 1481.5,325.79 1482.5,327.13 1483.5,328.47 1484.5,329.78 1485.5,331.10 1486.5,332.41 1487.5,333.72 1488.5,335.04 1489.5,336.58 1490.5,338.19 1491.5,339.79 1492.5,341.40 1493.5,343.00" fill="none" stroke="#4472c4" stroke-width="1.5" stroke-linejoin="round" stroke-linecap="round"/>
<polyline points="113.5,401.1 115.0,399.8 131.4,399.8 133.0,400.8 160.3,400.8 165.0,399.2 172.0,398.5 178.0,397.3 184.0,399.2 190.0,399.3 196.0,396.9 200.0,397.3 208.2,395.1 212.6,394.6 218.9,394.3 223.9,394.6 227.1,394.2 229.6,393.5 232.7,395.1 239.0,396.5 246.6,397.1 253.5,397.5 259.8,398.3 262.3,397.6 264.8,398.9 268.0,398.6 274.3,400.1 276.8,398.9 279.3,396.9 283.7,397.7 286.8,397.1 290.6,395.4 296.3,395.4 300.0,397.5 305.0,398.8 312.0,400.5 320.0,401.0 340.0,401.0 343.0,400.2 346.0,399.8 350.0,400.2 353.0,401.0 383.0,401.0 385.0,400.2 387.0,399.9 390.0,400.3 392.0,401.0 400.0,400.8 403.0,400.9 419.5,401.3 422.0,396.4 425.0,397.1 430.0,395.9 437.0,396.0 439.0,394.7 441.5,399.1 445.0,399.4 449.0,401.0 460.0,401.2 477.0,401.2 478.0,400.9 490.0,400.6 500.0,400.2 503.0,399.2 506.0,400.0 510.0,399.0 515.0,399.5 518.0,399.5 522.0,397.7 525.0,396.2 528.0,394.2 533.0,393.5 537.0,394.2 542.0,395.5 547.0,396.9 553.0,397.6 558.0,397.6 560.0,396.9 566.0,396.6 570.0,395.7 573.0,393.5 576.0,392.5 580.0,391.3 585.0,392.5 589.0,390.6 592.0,393.9 596.0,394.2 600.0,395.1 604.0,396.0 610.0,396.9 615.0,397.5 620.0,397.3 628.0,397.1 631.0,398.0 638.0,398.3 641.0,399.0 644.0,397.7 646.0,396.7 650.0,397.4 655.0,397.3 660.0,398.0 664.0,399.8 670.0,399.2 672.0,398.1 677.0,397.9 680.0,396.9 687.0,395.8 692.0,397.3 695.0,396.2 697.0,395.0 700.0,395.4 703.0,395.7 708.0,396.4 712.0,394.2 715.0,395.0 720.0,395.4 724.0,394.2 727.0,394.8 730.0,396.0 734.0,397.5 740.0,397.7 745.0,399.0 748.0,399.1 751.0,397.6 754.0,398.2 760.0,398.3 765.0,398.2 766.0,397.0 769.0,398.1 775.0,398.4 780.0,397.0 785.0,397.2 790.0,398.2 795.0,398.7 800.0,400.2 806.0,399.9 845.0,400.0 848.0,400.8 860.0,401.0 877.0,401.2 880.0,400.6 893.0,400.5 897.0,399.7 900.0,398.3 905.0,394.9 910.0,393.6 914.0,392.0 918.0,390.6 920.0,389.6 923.0,391.3 928.0,391.9 933.0,393.2 938.0,393.7 943.0,394.3 946.0,394.9 950.0,392.5 953.0,390.4 958.0,388.5 962.0,385.4 966.0,381.1 970.0,377.9 974.0,374.2 977.0,370.0 980.2,365.0 983.6,366.1 986.5,363.8 991.1,362.9 995.7,360.1 998.0,360.4 1000.9,363.8 1004.9,363.6 1009.5,362.4 1015.3,363.2 1023.3,362.9 1028.5,367.8 1033.7,369.6 1037.7,374.4 1042.9,376.7 1046.3,377.6 1051.0,380.8 1055.8,379.3 1059.2,380.1 1063.2,377.4 1067.3,380.1 1070.7,381.1 1074.2,385.1 1077.6,388.2 1082.2,390.9 1086.8,390.5 1089.7,391.2 1093.2,389.4 1098.3,390.3 1104.1,390.5 1108.7,392.3 1114.4,394.3 1119.0,395.5 1125.9,396.6 1128.5,395.5 1131.9,396.6 1142.3,397.2 1151.5,397.8 1156.1,398.6 1164.1,398.9 1175.6,398.3 1181.4,396.9 1184.8,396.0 1188.3,394.0 1190.6,394.6 1194.0,393.5 1197.5,392.3 1201.0,392.8 1206.7,395.0 1211.7,393.7 1216.8,391.2 1221.8,385.3 1226.8,376.1 1231.8,366.9 1236.0,363.5 1240.2,358.5 1243.6,356.0 1248.6,360.2 1251.9,358.2 1257.0,359.8 1260.3,360.5 1265.3,352.6 1268.4,351.0 1271.7,350.1 1275.1,345.1 1279.2,342.6 1283.4,343.1 1285.9,339.2 1288.5,337.6 1291.8,339.2 1295.2,341.8 1297.7,343.1 1299.8,341.8 1301.9,345.1 1305.2,351.8 1308.6,353.1 1311.9,352.1 1316.9,354.3 1322.0,355.2 1324.5,354.8 1327.8,356.8 1331.2,359.3 1333.4,358.2 1336.7,360.2 1340.9,365.2 1344.2,364.7 1347.6,366.9 1350.1,364.9 1353.5,366.0 1357.6,362.7 1361.0,357.7 1363.5,358.5 1366.5,355.2 1369.4,358.5 1373.6,356.5 1376.3,354.3 1380.1,348.0 1383.1,335.4 1385.6,317.8 1387.6,300.3 1389.6,275.1 1391.4,257.5 1392.6,250.0 1394.2,228.6 1396.8,203.5 1398.8,180.0 1400.4,155.3 1402.6,129.3 1405.1,121.8 1407.6,120.9 1409.8,116.8 1411.5,110.4 1414.3,116.8 1416.9,121.8 1418.5,131.8 1420.2,143.6 1422.0,165.0 1423.2,181.7 1425.6,191.8 1427.7,211.9 1429.9,233.7 1431.1,243.7 1432.5,249.3 1434.7,253.5" fill="none" stroke="#ed7d31" stroke-width="1.5" stroke-linejoin="round" stroke-linecap="round"/>
<path d="M113.5,70.0V406.4 M108.5,402.5H118.5 M108.5,395.5H113.5 M108.5,389.5H113.5 M108.5,382.5H113.5 M108.5,375.5H113.5 M108.5,369.5H118.5 M108.5,362.5H113.5 M108.5,355.5H113.5 M108.5,349.5H113.5 M108.5,342.5H113.5 M108.5,336.5H118.5 M108.5,329.5H113.5 M108.5,322.5H113.5 M108.5,316.5H113.5 M108.5,309.5H113.5 M108.5,302.5H118.5 M108.5,296.5H113.5 M108.5,289.5H113.5 M108.5,282.5H113.5 M108.5,276.5H113.5 M108.5,269.5H118.5 M108.5,263.5H113.5 M108.5,256.5H113.5 M108.5,249.5H113.5 M108.5,243.5H113.5 M108.5,236.5H118.5 M108.5,229.5H113.5 M108.5,223.5H113.5 M108.5,216.5H113.5 M108.5,209.5H113.5 M108.5,203.5H118.5 M108.5,196.5H113.5 M108.5,189.5H113.5 M108.5,183.5H113.5 M108.5,176.5H113.5 M108.5,170.5H118.5 M108.5,163.5H113.5 M108.5,156.5H113.5 M108.5,150.5H113.5 M108.5,143.5H113.5 M108.5,136.5H118.5 M108.5,130.5H113.5 M108.5,123.5H113.5 M108.5,116.5H113.5 M108.5,110.5H113.5 M108.5,103.5H118.5 M108.5,97.5H113.5 M108.5,90.5H113.5 M108.5,83.5H113.5 M108.5,77.5H113.5 M108.5,70.5H118.5" stroke="#000" stroke-width="1" fill="none"/>
<path d="M113.5,402.5H1494.2 M113.50,402.5V406.5 M132.50,402.5V406.5 M152.50,402.5V406.5 M171.50,402.5V406.5 M191.50,402.5V406.5 M210.50,402.5V406.5 M230.50,402.5V406.5 M249.50,402.5V406.5 M269.50,402.5V406.5 M289.50,402.5V406.5 M308.50,402.5V406.5 M328.50,402.5V406.5 M347.50,402.5V406.5 M367.50,402.5V406.5 M386.50,402.5V406.5 M406.50,402.5V406.5 M426.50,402.5V406.5 M445.50,402.5V406.5 M465.50,402.5V406.5 M484.50,402.5V406.5 M504.50,402.5V406.5 M523.50,402.5V406.5 M543.50,402.5V406.5 M562.50,402.5V406.5 M582.50,402.5V406.5 M602.50,402.5V406.5 M621.50,402.5V406.5 M641.50,402.5V406.5 M660.50,402.5V406.5 M680.50,402.5V406.5 M699.50,402.5V406.5 M719.50,402.5V406.5 M739.50,402.5V406.5 M758.50,402.5V406.5 M778.50,402.5V406.5 M797.50,402.5V406.5 M817.50,402.5V406.5 M836.50,402.5V406.5 M856.50,402.5V406.5 M876.50,402.5V406.5 M895.50,402.5V406.5 M915.50,402.5V406.5 M934.50,402.5V406.5 M954.50,402.5V406.5 M973.50,402.5V406.5 M993.50,402.5V406.5 M1012.50,402.5V406.5 M1032.50,402.5V406.5 M1052.50,402.5V406.5 M1071.50,402.5V406.5 M1091.50,402.5V406.5 M1110.50,402.5V406.5 M1130.50,402.5V406.5 M1149.50,402.5V406.5 M1169.50,402.5V406.5 M1189.50,402.5V406.5 M1208.50,402.5V406.5 M1228.50,402.5V406.5 M1247.50,402.5V406.5 M1267.50,402.5V406.5 M1286.50,402.5V406.5 M1306.50,402.5V406.5 M1326.50,402.5V406.5 M1345.50,402.5V406.5 M1365.50,402.5V406.5 M1384.50,402.5V406.5 M1404.50,402.5V406.5 M1423.50,402.5V406.5 M1443.50,402.5V406.5 M1462.50,402.5V406.5 M1482.50,402.5V406.5" stroke="#000" stroke-width="1" fill="none"/>
<path d="M1494.2,70.5V402.4 M1494.2,402.5H1498.7 M1494.2,355.5H1498.7 M1494.2,308.5H1498.7 M1494.2,260.5H1498.7 M1494.2,213.5H1498.7 M1494.2,165.5H1498.7 M1494.2,118.5H1498.7 M1494.2,71.5H1498.7" stroke="#d9d9d9" stroke-width="1" fill="none"/>
<text x="100" y="408.4" font-size="16" fill="#404040" text-anchor="end" transform="translate(100 0) scale(0.88 1) translate(-100 0)">0</text>
<text x="100" y="375.2" font-size="16" fill="#404040" text-anchor="end" transform="translate(100 0) scale(0.88 1) translate(-100 0)">20</text>
<text x="100" y="342.0" font-size="16" fill="#404040" text-anchor="end" transform="translate(100 0) scale(0.88 1) translate(-100 0)">40</text>
<text x="100" y="308.8" font-size="16" fill="#404040" text-anchor="end" transform="translate(100 0) scale(0.88 1) translate(-100 0)">60</text>
<text x="100" y="275.6" font-size="16" fill="#404040" text-anchor="end" transform="translate(100 0) scale(0.88 1) translate(-100 0)">80</text>
<text x="100" y="242.4" font-size="16" fill="#404040" text-anchor="end" transform="translate(100 0) scale(0.88 1) translate(-100 0)">100</text>
<text x="100" y="209.3" font-size="16" fill="#404040" text-anchor="end" transform="translate(100 0) scale(0.88 1) translate(-100 0)">120</text>
<text x="100" y="176.1" font-size="16" fill="#404040" text-anchor="end" transform="translate(100 0) scale(0.88 1) translate(-100 0)">140</text>
<text x="100" y="142.9" font-size="16" fill="#404040" text-anchor="end" transform="translate(100 0) scale(0.88 1) translate(-100 0)">160</text>
<text x="100" y="109.7" font-size="16" fill="#404040" text-anchor="end" transform="translate(100 0) scale(0.88 1) translate(-100 0)">180</text>
<text x="100" y="76.5" font-size="16" fill="#404040" text-anchor="end" transform="translate(100 0) scale(0.88 1) translate(-100 0)">200</text>
<text x="1507.5" y="408.4" font-size="16" fill="#404040" transform="translate(1507.5 0) scale(0.88 1) translate(-1507.5 0)">0</text>
<text x="1507.5" y="361.0" font-size="16" fill="#404040" transform="translate(1507.5 0) scale(0.88 1) translate(-1507.5 0)">50</text>
<text x="1507.5" y="313.6" font-size="16" fill="#404040" transform="translate(1507.5 0) scale(0.88 1) translate(-1507.5 0)">100</text>
<text x="1507.5" y="266.2" font-size="16" fill="#404040" transform="translate(1507.5 0) scale(0.88 1) translate(-1507.5 0)">150</text>
<text x="1507.5" y="218.7" font-size="16" fill="#404040" transform="translate(1507.5 0) scale(0.88 1) translate(-1507.5 0)">200</text>
<text x="1507.5" y="171.3" font-size="16" fill="#404040" transform="translate(1507.5 0) scale(0.88 1) translate(-1507.5 0)">250</text>
<text x="1507.5" y="123.9" font-size="16" fill="#404040" transform="translate(1507.5 0) scale(0.88 1) translate(-1507.5 0)">300</text>
<text x="1507.5" y="76.5" font-size="16" fill="#404040" transform="translate(1507.5 0) scale(0.88 1) translate(-1507.5 0)">350</text>
<text transform="translate(118.70 459.3) rotate(-90) scale(1.19 1)" font-size="10.2" fill="#404040">01-10-20</text>
<text transform="translate(138.26 459.3) rotate(-90) scale(1.19 1)" font-size="10.2" fill="#404040">08-10-20</text>
<text transform="translate(157.83 459.3) rotate(-90) scale(1.19 1)" font-size="10.2" fill="#404040">15-10-20</text>
<text transform="translate(177.39 459.3) rotate(-90) scale(1.19 1)" font-size="10.2" fill="#404040">22-10-20</text>
<text transform="translate(196.96 459.3) rotate(-90) scale(1.19 1)" font-size="10.2" fill="#404040">29-10-20</text>
<text transform="translate(216.52 459.3) rotate(-90) scale(1.19 1)" font-size="10.2" fill="#404040">05-11-20</text>
<text transform="translate(236.09 459.3) rotate(-90) scale(1.19 1)" font-size="10.2" fill="#404040">12-11-20</text>
<text transform="translate(255.65 459.3) rotate(-90) scale(1.19 1)" font-size="10.2" fill="#404040">19-11-20</text>
<text transform="translate(275.22 459.3) rotate(-90) scale(1.19 1)" font-size="10.2" fill="#404040">26-11-20</text>
<text transform="translate(294.78 459.3) rotate(-90) scale(1.19 1)" font-size="10.2" fill="#404040">03-12-20</text>
<text transform="translate(314.35 459.3) rotate(-90) scale(1.19 1)" font-size="10.2" fill="#404040">10-12-20</text>
<text transform="translate(333.91 459.3) rotate(-90) scale(1.19 1)" font-size="10.2" fill="#404040">17-12-20</text>
<text transform="translate(353.47 459.3) rotate(-90) scale(1.19 1)" font-size="10.2" fill="#404040">24-12-20</text>
<text transform="translate(373.04 459.3) rotate(-90) scale(1.19 1)" font-size="10.2" fill="#404040">31-12-20</text>
<text transform="translate(392.60 459.3) rotate(-90) scale(1.19 1)" font-size="10.2" fill="#404040">07-01-21</text>
<text transform="translate(412.17 459.3) rotate(-90) scale(1.19 1)" font-size="10.2" fill="#404040">14-01-21</text>
<text transform="translate(431.73 459.3) rotate(-90) scale(1.19 1)" font-size="10.2" fill="#404040">21-01-21</text>
<text transform="translate(451.30 459.3) rotate(-90) scale(1.19 1)" font-size="10.2" fill="#404040">28-01-21</text>
<text transform="translate(470.86 459.3) rotate(-90) scale(1.19 1)" font-size="10.2" fill="#404040">04-02-21</text>
<text transform="translate(490.43 459.3) rotate(-90) scale(1.19 1)" font-size="10.2" fill="#404040">11-02-21</text>
<text transform="translate(509.99 459.3) rotate(-90) scale(1.19 1)" font-size="10.2" fill="#404040">18-02-21</text>
<text transform="translate(529.56 459.3) rotate(-90) scale(1.19 1)" font-size="10.2" fill="#404040">25-02-21</text>
<text transform="translate(549.12 459.3) rotate(-90) scale(1.19 1)" font-size="10.2" fill="#404040">04-03-21</text>
<text transform="translate(568.69 459.3) rotate(-90) scale(1.19 1)" font-size="10.2" fill="#404040">11-03-21</text>
<text transform="translate(588.25 459.3) rotate(-90) scale(1.19 1)" font-size="10.2" fill="#404040">18-03-21</text>
<text transform="translate(607.81 459.3) rotate(-90) scale(1.19 1)" font-size="10.2" fill="#404040">25-03-21</text>
<text transform="translate(627.38 459.3) rotate(-90) scale(1.19 1)" font-size="10.2" fill="#404040">01-04-21</text>
<text transform="translate(646.94 459.3) rotate(-90) scale(1.19 1)" font-size="10.2" fill="#404040">08-04-21</text>
<text transform="translate(666.51 459.3) rotate(-90) scale(1.19 1)" font-size="10.2" fill="#404040">15-04-21</text>
<text transform="translate(686.07 459.3) rotate(-90) scale(1.19 1)" font-size="10.2" fill="#404040">22-04-21</text>
<text transform="translate(705.64 459.3) rotate(-90) scale(1.19 1)" font-size="10.2" fill="#404040">29-04-21</text>
<text transform="translate(725.20 459.3) rotate(-90) scale(1.19 1)" font-size="10.2" fill="#404040">06-05-21</text>
<text transform="translate(744.77 459.3) rotate(-90) scale(1.19 1)" font-size="10.2" fill="#404040">13-05-21</text>
<text transform="translate(764.33 459.3) rotate(-90) scale(1.19 1)" font-size="10.2" fill="#404040">20-05-21</text>
<text transform="translate(783.90 459.3) rotate(-90) scale(1.19 1)" font-size="10.2" fill="#404040">27-05-21</text>
<text transform="translate(803.46 459.3) rotate(-90) scale(1.19 1)" font-size="10.2" fill="#404040">03-06-21</text>
<text transform="translate(823.02 459.3) rotate(-90) scale(1.19 1)" font-size="10.2" fill="#404040">10-06-21</text>
<text transform="translate(842.59 459.3) rotate(-90) scale(1.19 1)" font-size="10.2" fill="#404040">17-06-21</text>
<text transform="translate(862.15 459.3) rotate(-90) scale(1.19 1)" font-size="10.2" fill="#404040">24-06-21</text>
<text transform="translate(881.72 459.3) rotate(-90) scale(1.19 1)" font-size="10.2" fill="#404040">01-07-21</text>
<text transform="translate(901.28 459.3) rotate(-90) scale(1.19 1)" font-size="10.2" fill="#404040">08-07-21</text>
<text transform="translate(920.85 459.3) rotate(-90) scale(1.19 1)" font-size="10.2" fill="#404040">15-07-21</text>
<text transform="translate(940.41 459.3) rotate(-90) scale(1.19 1)" font-size="10.2" fill="#404040">22-07-21</text>
<text transform="translate(959.98 459.3) rotate(-90) scale(1.19 1)" font-size="10.2" fill="#404040">29-07-21</text>
<text transform="translate(979.54 459.3) rotate(-90) scale(1.19 1)" font-size="10.2" fill="#404040">05-08-21</text>
<text transform="translate(999.11 459.3) rotate(-90) scale(1.19 1)" font-size="10.2" fill="#404040">12-08-21</text>
<text transform="translate(1018.67 459.3) rotate(-90) scale(1.19 1)" font-size="10.2" fill="#404040">19-08-21</text>
<text transform="translate(1038.24 459.3) rotate(-90) scale(1.19 1)" font-size="10.2" fill="#404040">26-08-21</text>
<text transform="translate(1057.80 459.3) rotate(-90) scale(1.19 1)" font-size="10.2" fill="#404040">02-09-21</text>
<text transform="translate(1077.36 459.3) rotate(-90) scale(1.19 1)" font-size="10.2" fill="#404040">09-09-21</text>
<text transform="translate(1096.93 459.3) rotate(-90) scale(1.19 1)" font-size="10.2" fill="#404040">16-09-21</text>
<text transform="translate(1116.49 459.3) rotate(-90) scale(1.19 1)" font-size="10.2" fill="#404040">23-09-21</text>
<text transform="translate(1136.06 459.3) rotate(-90) scale(1.19 1)" font-size="10.2" fill="#404040">30-09-21</text>
<text transform="translate(1155.62 459.3) rotate(-90) scale(1.19 1)" font-size="10.2" fill="#404040">07-10-21</text>
<text transform="translate(1175.19 459.3) rotate(-90) scale(1.19 1)" font-size="10.2" fill="#404040">14-10-21</text>
<text transform="translate(1194.75 459.3) rotate(-90) scale(1.19 1)" font-size="10.2" fill="#404040">21-10-21</text>
<text transform="translate(1214.32 459.3) rotate(-90) scale(1.19 1)" font-size="10.2" fill="#404040">28-10-21</text>
<text transform="translate(1233.88 459.3) rotate(-90) scale(1.19 1)" font-size="10.2" fill="#404040">04-11-21</text>
<text transform="translate(1253.45 459.3) rotate(-90) scale(1.19 1)" font-size="10.2" fill="#404040">11-11-21</text>
<text transform="translate(1273.01 459.3) rotate(-90) scale(1.19 1)" font-size="10.2" fill="#404040">18-11-21</text>
<text transform="translate(1292.57 459.3) rotate(-90) scale(1.19 1)" font-size="10.2" fill="#404040">25-11-21</text>
<text transform="translate(1312.14 459.3) rotate(-90) scale(1.19 1)" font-size="10.2" fill="#404040">02-12-21</text>
<text transform="translate(1331.70 459.3) rotate(-90) scale(1.19 1)" font-size="10.2" fill="#404040">09-12-21</text>
<text transform="translate(1351.27 459.3) rotate(-90) scale(1.19 1)" font-size="10.2" fill="#404040">16-12-21</text>
<text transform="translate(1370.83 459.3) rotate(-90) scale(1.19 1)" font-size="10.2" fill="#404040">23-12-21</text>
<text transform="translate(1390.40 459.3) rotate(-90) scale(1.19 1)" font-size="10.2" fill="#404040">30-12-21</text>
<text transform="translate(1409.96 459.3) rotate(-90) scale(1.19 1)" font-size="10.2" fill="#404040">06-01-22</text>
<text transform="translate(1429.53 459.3) rotate(-90) scale(1.19 1)" font-size="10.2" fill="#404040">13-01-22</text>
<text transform="translate(1449.09 459.3) rotate(-90) scale(1.19 1)" font-size="10.2" fill="#404040">20-01-22</text>
<text transform="translate(1468.66 459.3) rotate(-90) scale(1.19 1)" font-size="10.2" fill="#404040">27-01-22</text>
<text transform="translate(1488.22 459.3) rotate(-90) scale(1.19 1)" font-size="10.2" fill="#404040">03-02-22</text>
<text transform="translate(16 328.7) rotate(-90) scale(1.04 1)" font-size="15" fill="#404040">Ρυθμός μεταβολής κρουσμάτων</text>
<text transform="translate(1568.5 306.4) rotate(-90) scale(1.07 1)" font-size="15" fill="#404040">Κρούσματα ανά 100.000</text>
<rect x="159" y="15" width="22" height="9" fill="#a5a5a5"/>
<path d="M158,44.5H182" stroke="#4472c4" stroke-width="1.5"/>
<path d="M894.5,19.3H902.5M913.5,19.3H917.3" stroke="#ff0000" stroke-width="3" stroke-linecap="round"/>
<path d="M894,44.5H918" stroke="#ed7d31" stroke-width="1.5"/>
<text transform="translate(184 25.0) scale(0.873 1)" font-size="15.6" fill="#404040">Κρούσματα ανά 100.000 (Κυλιόμενος μέσος όρος 7 ημερών)</text>
<text transform="translate(184 49.9) scale(0.86 1)" font-size="15.6" fill="#404040">Ρυθμός μεταβολής κρουσμάτων μοντέλου (7days moving average)</text>
<text transform="translate(920.5 25.0) scale(0.876 1)" font-size="15.6" fill="#404040">Όριο μετάβασης σε κόκκινη περιοχή</text>
<text transform="translate(920.5 49.9) scale(0.858 1)" font-size="15.6" fill="#404040">Ρυθμός μεταβολής επιβεβαιωμένων κρουσμάτων (7days moving average)</text>
</svg></body></html>
